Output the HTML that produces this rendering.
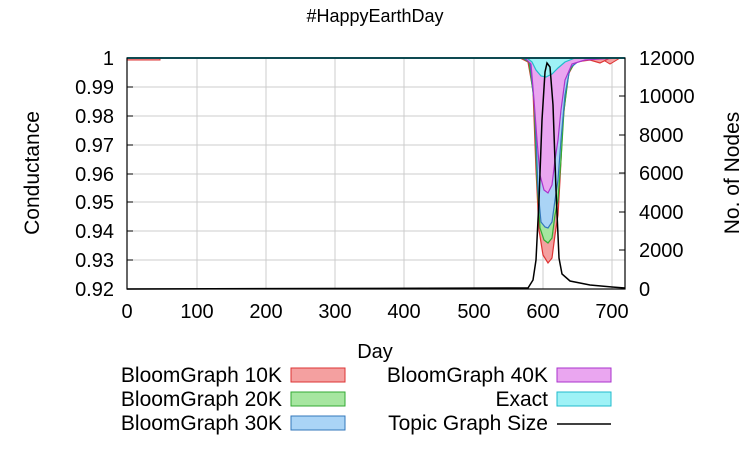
<!DOCTYPE html>
<html><head><style>body{margin:0;background:#fff}svg{display:block;font-family:"Liberation Sans",sans-serif}</style></head>
<body>
<svg width="750" height="451" xmlns="http://www.w3.org/2000/svg">
<rect width="750" height="451" fill="#fff"/>
<g stroke="#ccc" stroke-width="1">
<line x1="197" y1="58" x2="197" y2="289"/><line x1="266" y1="58" x2="266" y2="289"/><line x1="335" y1="58" x2="335" y2="289"/><line x1="404" y1="58" x2="404" y2="289"/><line x1="474" y1="58" x2="474" y2="289"/><line x1="543" y1="58" x2="543" y2="289"/><line x1="612" y1="58" x2="612" y2="289"/>
<line x1="127" y1="87" x2="625" y2="87"/><line x1="127" y1="116" x2="625" y2="116"/><line x1="127" y1="145" x2="625" y2="145"/><line x1="127" y1="174" x2="625" y2="174"/><line x1="127" y1="202" x2="625" y2="202"/><line x1="127" y1="231" x2="625" y2="231"/><line x1="127" y1="260" x2="625" y2="260"/>
</g>
<path d="M127,58 L160,58 L160,60 L127,60Z M480,58 L600,58 L610,64 L620,58Z" fill="#f4a0a0" stroke="#d33" stroke-width="1"/>
<path d="M520,58 L528,62 L533,90 L536,170 L539,230 L543,255 L548,263 L552,258 L555,235 L558,215 L560,180 L563,120 L568,75 L575,62 L590,60 L600,63 L610,58Z" fill="#f4a0a0" stroke="#d33" stroke-width="1.2"/>
<path d="M522,58 L529,62 L534,100 L537,180 L540,228 L544,240 L548,243 L552,238 L555,215 L558,200 L561,160 L564,110 L569,72 L576,61 L590,59 L610,58Z" fill="#a6e6a0" stroke="#3a3" stroke-width="1.2"/>
<path d="M523,58 L530,62 L535,110 L538,190 L541,222 L545,227 L548,228 L552,222 L555,200 L558,180 L561,140 L565,95 L570,68 L580,60 L600,58Z" fill="#aad4f6" stroke="#37b" stroke-width="1.2"/>
<path d="M525,58 L531,64 L534,100 L537,140 L540,175 L544,190 L548,193 L552,185 L555,160 L558,140 L561,110 L565,80 L572,64 L585,60 L600,59 L620,58Z" fill="#eaa6f0" stroke="#a3c" stroke-width="1.2"/>
<path d="M527,58 L532,62 L536,70 L541,76 L546,77 L552,74 L558,68 L565,62 L575,58Z" fill="#9ef2f6" stroke="#2bc" stroke-width="1.2"/>
<line x1="127" y1="58" x2="625" y2="58" stroke="#2bc" stroke-width="2"/>
<path d="M127,289 L528,288 L533,280 L536,260 L539,200 L542,120 L545,72 L547,63 L550,67 L553,105 L556,190 L559,258 L562,274 L570,281 L590,285 L612,287 L625,288" fill="none" stroke="#000" stroke-width="1.5"/>
<rect x="127" y="58" width="498" height="231" fill="none" stroke="#000" stroke-width="1.2"/>
<g stroke="#000">
<line x1="127" y1="87" x2="133" y2="87"/><line x1="127" y1="116" x2="133" y2="116"/><line x1="127" y1="145" x2="133" y2="145"/><line x1="127" y1="174" x2="133" y2="174"/><line x1="127" y1="202" x2="133" y2="202"/><line x1="127" y1="231" x2="133" y2="231"/><line x1="127" y1="260" x2="133" y2="260"/>
<line x1="619" y1="96" x2="625" y2="96"/><line x1="619" y1="135" x2="625" y2="135"/><line x1="619" y1="173" x2="625" y2="173"/><line x1="619" y1="212" x2="625" y2="212"/><line x1="619" y1="250" x2="625" y2="250"/>
</g>
<g font-size="20" fill="#000">
<text x="375" y="22" text-anchor="middle" font-size="18">#HappyEarthDay</text>
<g text-anchor="end"><text x="114" y="65">1</text><text x="114" y="94">0.99</text><text x="114" y="123">0.98</text><text x="114" y="152">0.97</text><text x="114" y="181">0.96</text><text x="114" y="209">0.95</text><text x="114" y="238">0.94</text><text x="114" y="267">0.93</text><text x="114" y="296">0.92</text></g>
<g><text x="639" y="65">12000</text><text x="639" y="103">10000</text><text x="639" y="142">8000</text><text x="639" y="180">6000</text><text x="639" y="219">4000</text><text x="639" y="257">2000</text><text x="639" y="296">0</text></g>
<g text-anchor="middle"><text x="127" y="318">0</text><text x="197" y="318">100</text><text x="266" y="318">200</text><text x="335" y="318">300</text><text x="404" y="318">400</text><text x="474" y="318">500</text><text x="543" y="318">600</text><text x="612" y="318">700</text>
<text x="375" y="358">Day</text></g>
<text transform="translate(39,173) rotate(-90)" text-anchor="middle" font-size="21">Conductance</text>
<text transform="translate(739,173) rotate(-90)" text-anchor="middle" font-size="21">No. of Nodes</text>
<g text-anchor="end" font-size="21"><text x="282" y="382">BloomGraph 10K</text><text x="282" y="406">BloomGraph 20K</text><text x="282" y="430">BloomGraph 30K</text>
<text x="548" y="382">BloomGraph 40K</text><text x="548" y="406">Exact</text><text x="548" y="430">Topic Graph Size</text></g>
</g>
<rect x="291" y="368" width="54" height="14" fill="#f4a0a0" stroke="#d33"/>
<rect x="291" y="392" width="54" height="14" fill="#a6e6a0" stroke="#3a3"/>
<rect x="291" y="416" width="54" height="14" fill="#aad4f6" stroke="#37b"/>
<rect x="557" y="368" width="54" height="14" fill="#eaa6f0" stroke="#a3c"/>
<rect x="557" y="392" width="54" height="14" fill="#9ef2f6" stroke="#2bc"/>
<line x1="557" y1="424" x2="611" y2="424" stroke="#000" stroke-width="1.5"/>
</svg>
</body></html>
